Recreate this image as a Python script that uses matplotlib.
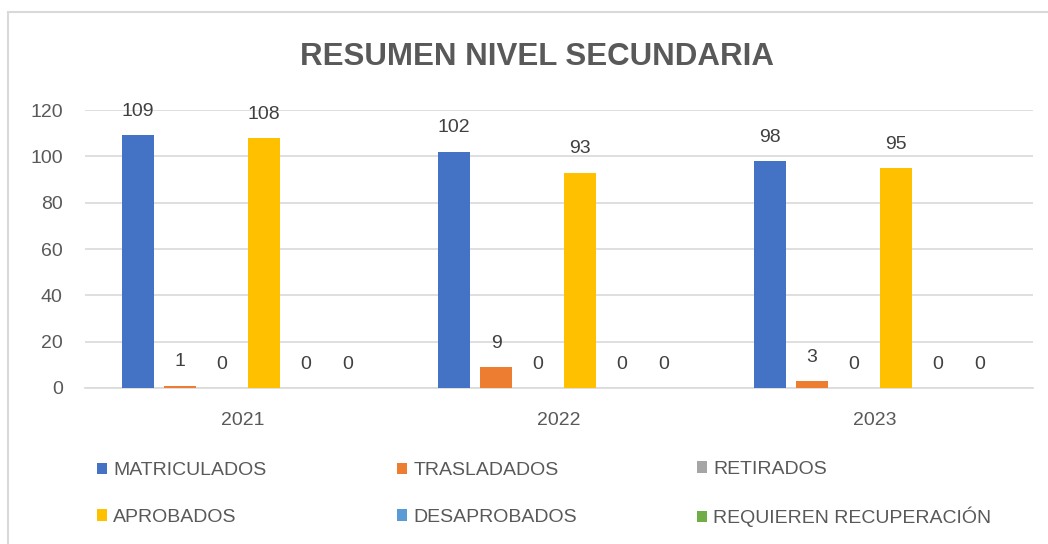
import numpy as np
import matplotlib.pyplot as plt
from matplotlib.patches import Rectangle

plt.rcParams['font.family'] = ['Liberation Sans', 'DejaVu Sans']

years = ['2021', '2022', '2023']
series = ['MATRICULADOS', 'TRASLADADOS', 'RETIRADOS',
          'APROBADOS', 'DESAPROBADOS', 'REQUIEREN RECUPERACIÓN']
matriculados = [109, 102, 98]
trasladados = [1, 9, 3]
retirados = [0, 0, 0]
aprobados = [108, 93, 95]
desaprobados = [0, 0, 0]
recuperacion = [0, 0, 0]
values = [matriculados, trasladados, retirados, aprobados, desaprobados, recuperacion]
colors = ['#4472c4', '#ed7d31', '#a5a5a5', '#ffc000', '#5b9bd5', '#70ad47']

txt = '#595959'
fig = plt.figure(figsize=(10.48, 5.44), dpi=100)
ax = fig.add_axes([85/1048, 1-388/544, (1033-85)/1048, (388-110)/544])

# chart area border
fig.patches.append(Rectangle((8/1048, -0.1), 1.2, 1.1-12/544, transform=fig.transFigure,
                             fill=False, edgecolor='#d9d9d9', linewidth=1.5))

x = np.arange(len(years))
pitch = 42/316
width = 32/316
for i, (name, vals, c) in enumerate(zip(series, values, colors)):
    pos = x + (i - 2.5) * pitch
    bars = ax.bar(pos, vals, width, color=c, label=name, zorder=3)
    for b, v in zip(bars, vals):
        ax.annotate(str(v), (b.get_x() + b.get_width()/2, v), xytext=(0, 11),
                    textcoords='offset points', ha='center', va='bottom',
                    fontsize=14, color='#404040')

ax.set_xlim(-0.5, 2.5)
ax.set_ylim(0, 120)
ax.set_yticks(range(0, 121, 20))
ax.set_xticks(x)
ax.set_xticklabels(years)
ax.grid(axis='y', color='#d9d9d9', linewidth=1.2, zorder=0)
for s in ['top', 'right', 'left']:
    ax.spines[s].set_visible(False)
ax.spines['bottom'].set_color('#d9d9d9')
ax.spines['bottom'].set_linewidth(1.2)
ax.tick_params(length=0, labelsize=14, colors=txt)
ax.tick_params(axis='x', pad=17)
ax.tick_params(axis='y', pad=16)

fig.text(537/1048, 1-57/544, 'RESUMEN NIVEL SECUNDARIA', ha='center', va='center',
         fontsize=22.5, fontweight='bold', color=txt)

# legend: three columns, two rows (row-wise order)
handles, labels = ax.get_legend_handles_labels()
col_x = [87, 387, 687]
for j in range(3):
    idx = [j, j + 3]
    leg = fig.legend([handles[k] for k in idx], [labels[k] for k in idx],
                     loc='center left', bbox_to_anchor=(col_x[j]/1048, 1-494/544),
                     frameon=False, fontsize=14, labelcolor=txt,
                     handlelength=0.55, handleheight=0.55, handletextpad=0.3,
                     labelspacing=1.5, borderpad=0)

fig.savefig('out.png', dpi=100)
